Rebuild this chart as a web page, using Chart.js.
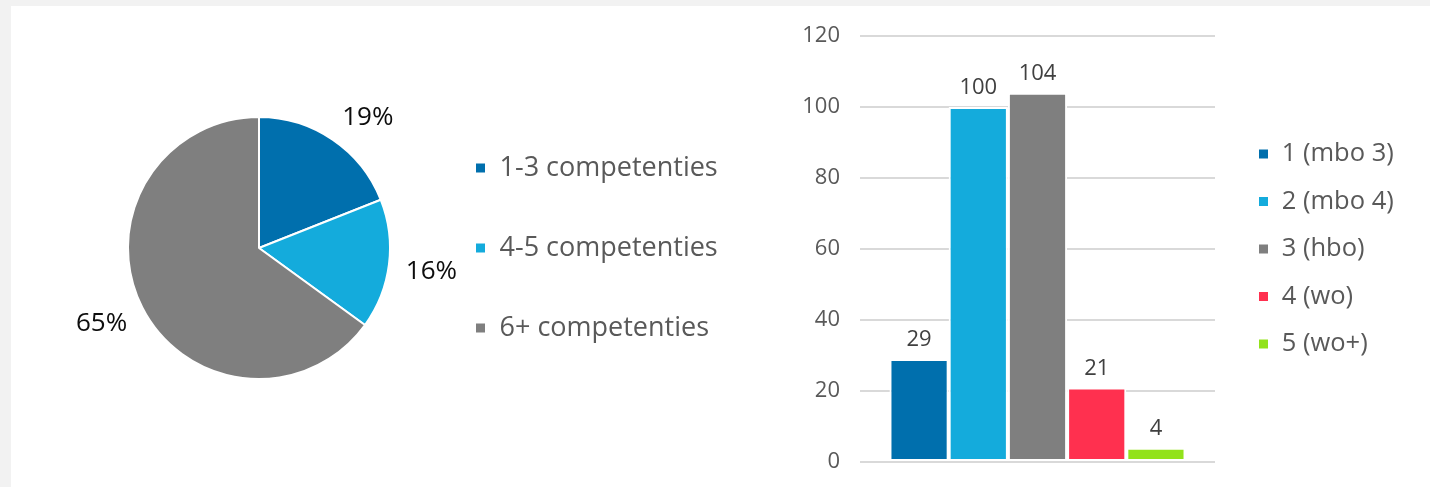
<!DOCTYPE html>
<html>
<head>
<meta charset="utf-8">
<script src="https://cdn.jsdelivr.net/npm/chart.js"></script>
<style>
  html, body { margin: 0; padding: 0; background: #f2f2f2; }
  body { width: 1430px; height: 487px; overflow: hidden; position: relative; }
  .panel { position: absolute; left: 11px; top: 6px; width: 1419px; height: 481px; background: #fff; }
  #pie-chart { position: absolute; left: 0; top: 0; }
  #level-chart { position: absolute; left: 759px; top: 0; }
</style>
</head>
<body>
<div class="panel">
  <canvas id="pie-chart" width="760" height="481"></canvas>
  <canvas id="level-chart" width="660" height="481"></canvas>
</div>
<script>
// competenties share (%)
const pieLabels = ['1-3 competenties', '4-5 competenties', '6+ competenties'];
const pieValues = [19, 16, 65];
const pieColors = ['#006fad', '#14abdc', '#7f7f7f'];

// number of people per level
const levelLabels = ['1 (mbo 3)', '2 (mbo 4)', '3 (hbo)', '4 (wo)', '5 (wo+)'];
const levelCounts = [29, 100, 104, 21, 4];
const levelColors = ['#006fad', '#14abdc', '#7f7f7f', '#ff304f', '#92e21b'];
const yTicks = [0, 20, 40, 60, 80, 100, 120];

const fontFamily = "'Open Sans', sans-serif";
Chart.defaults.font.family = fontFamily;

// the legend is laid out narrow, then moved and widened so its text is not clipped
function legendAt(gap) {
    return {
        id: 'legendAt',
        afterLayout(chart) {
            const legend = chart.legend;
            legend.left = chart.chartArea.right + gap;
            legend.right = chart.width;
            legend.width = legend.right - legend.left;
        }
    };
}

// percentages outside each slice
const pieValueLabels = {
    id: 'pieValueLabels',
    afterDatasetsDraw(chart) {
        const ctx = chart.ctx;
        const values = chart.data.datasets[0].data;
        ctx.save();
        ctx.font = '26px ' + fontFamily;
        ctx.fillStyle = '#0d0d0d';
        ctx.textAlign = 'center';
        ctx.textBaseline = 'middle';
        chart.getDatasetMeta(0).data.forEach((arc, i) => {
            const mid = (arc.startAngle + arc.endAngle) / 2;
            const ux = Math.cos(mid);
            const uy = Math.sin(mid);
            const text = values[i] + '%';
            const w = ctx.measureText(text).width;
            const r = arc.outerRadius + 17;
            const x = arc.x + ux * r + Math.sign(ux) * w / 2;
            const y = arc.y + uy * r + uy * 13 + 3;
            ctx.fillText(text, x, y);
        });
        ctx.restore();
    }
};

// counts above the bars
const barValueLabels = {
    id: 'barValueLabels',
    afterDatasetsDraw(chart) {
        const ctx = chart.ctx;
        ctx.save();
        ctx.font = '22px ' + fontFamily;
        ctx.fillStyle = '#404040';
        ctx.textAlign = 'center';
        ctx.textBaseline = 'bottom';
        chart.data.datasets.forEach((ds, i) => {
            chart.getDatasetMeta(i).data.forEach((bar, j) => {
                ctx.fillText(String(ds.data[j]), bar.x, bar.y - 8);
            });
        });
        ctx.restore();
    }
};

const pieChart = new Chart(document.getElementById('pie-chart'), {
    type: 'pie',
    data: {
        labels: pieLabels,
        datasets: [{
            data: pieValues,
            backgroundColor: pieColors,
            borderColor: '#ffffff',
            borderWidth: 2,
            radius: 131
        }]
    },
    options: {
        responsive: false,
        animation: false,
        layout: {
            padding: { left: 85, top: 72, bottom: 69, right: 289 }
        },
        plugins: {
            legend: {
                position: 'right',
                maxWidth: 60,
                labels: {
                    boxWidth: 11,
                    boxHeight: 11,
                    padding: 53,
                    color: '#595959',
                    font: { size: 27 }
                }
            },
            tooltip: { enabled: false }
        }
    },
    plugins: [pieValueLabels, legendAt(0)]
});

const levelChart = new Chart(document.getElementById('level-chart'), {
    type: 'bar',
    data: {
        labels: [''],
        datasets: levelLabels.map((label, i) => ({
            label: label,
            data: [levelCounts[i]],
            backgroundColor: levelColors[i],
            borderColor: '#ffffff',
            borderWidth: 2,
            borderSkipped: false,
            categoryPercentage: 0.834,
            barPercentage: 1
        }))
    },
    options: {
        responsive: false,
        animation: false,
        layout: {
            padding: { left: 10, top: 30, bottom: 25, right: 155 }
        },
        scales: {
            x: { display: false },
            y: {
                min: yTicks[0],
                max: yTicks[yTicks.length - 1],
                ticks: {
                    stepSize: yTicks[1] - yTicks[0],
                    padding: 10,
                    color: '#595959',
                    font: { size: 22 }
                },
                grid: {
                    color: '#d9d9d9',
                    lineWidth: 2,
                    drawTicks: true,
                    tickLength: 10,
                    tickColor: 'rgba(0, 0, 0, 0)'
                },
                border: { display: false },
                afterFit(scale) { scale.width = 80; }
            }
        },
        plugins: {
            legend: {
                position: 'right',
                maxWidth: 60,
                labels: {
                    boxWidth: 11,
                    boxHeight: 11,
                    padding: 22,
                    color: '#595959',
                    font: { size: 25.5 }
                }
            },
            tooltip: { enabled: false }
        }
    },
    plugins: [barValueLabels, legendAt(21)]
});
</script>
</body>
</html>
